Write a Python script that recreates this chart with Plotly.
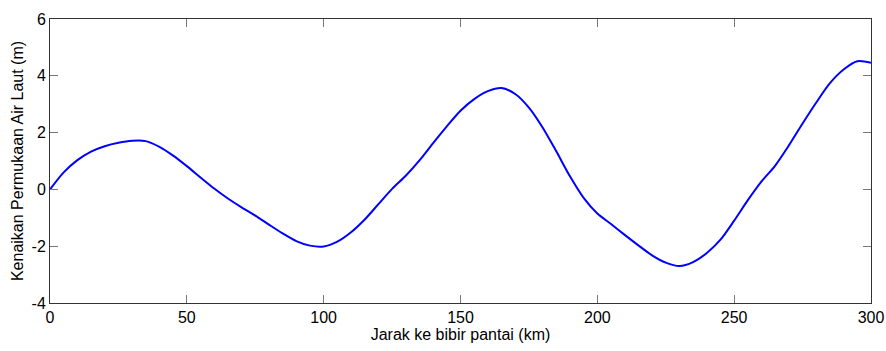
import plotly.graph_objects as go

jarak_km = [0, 5, 10, 15, 20, 25, 30, 35, 40, 45, 50, 55, 60, 65, 70, 75, 80, 85, 90, 95,
            100, 105, 110, 115, 120, 125, 130, 135, 140, 145, 150, 155, 160, 165, 170, 175,
            180, 185, 190, 195, 200, 205, 210, 215, 220, 225, 230, 235, 240, 245, 250, 255,
            260, 265, 270, 275, 280, 285, 290, 295, 300]
kenaikan_m = [0.00, 0.60, 1.03, 1.33, 1.52, 1.64, 1.71, 1.70, 1.50, 1.19, 0.82, 0.42, 0.03,
              -0.32, -0.63, -0.92, -1.24, -1.55, -1.82, -1.98, -2.01, -1.84, -1.51, -1.06,
              -0.52, 0.02, 0.48, 1.02, 1.63, 2.22, 2.77, 3.18, 3.46, 3.57, 3.36, 2.88, 2.18,
              1.34, 0.46, -0.30, -0.85, -1.22, -1.60, -1.97, -2.32, -2.58, -2.70, -2.56,
              -2.24, -1.77, -1.10, -0.38, 0.28, 0.84, 1.55, 2.32, 3.06, 3.74, 4.22, 4.51, 4.46]

x_ticks = [0, 50, 100, 150, 200, 250, 300]
y_ticks = [-4, -2, 0, 2, 4, 6]

fig = go.Figure()
fig.add_trace(go.Scatter(x=jarak_km, y=kenaikan_m, mode="lines",
                         line=dict(color="#0000ff", width=2, shape="spline", smoothing=0.8)))

axis_common = dict(showgrid=False, zeroline=False, showline=True, linecolor="#333333",
                   linewidth=1, mirror="ticks", ticks="inside", ticklen=8, tickwidth=1,
                   tickcolor="#777777", automargin=False,
                   tickfont=dict(family="Liberation Sans, Arial, sans-serif", size=16, color="#000000"))

fig.update_layout(
    width=886, height=351,
    margin=dict(l=50, r=15, t=19, b=48),
    paper_bgcolor="white", plot_bgcolor="white",
    showlegend=False,
    font=dict(family="Liberation Sans, Arial, sans-serif", size=16, color="#000000"),
    xaxis=dict(range=[0, 300], tickvals=x_ticks, ticktext=[str(v) for v in x_ticks],
               title=dict(text="Jarak ke bibir pantai (km)", standoff=2,
                          font=dict(size=16)), **axis_common),
    yaxis=dict(range=[-4, 6], tickvals=y_ticks, ticktext=[str(v) for v in y_ticks],
               title=dict(text="Kenaikan Permukaan Air Laut (m)", standoff=3,
                          font=dict(size=16)), **axis_common),
)

fig.write_html("out.html", config={"displayModeBar": False},
               post_script="document.body.style.margin='0px';document.body.style.overflow='hidden';")
